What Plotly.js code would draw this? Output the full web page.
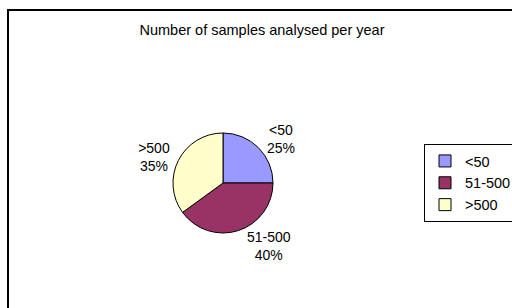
<!DOCTYPE html>
<html>
<head>
<meta charset="utf-8">
<script src="https://cdn.plot.ly/plotly-3.0.1.min.js"></script>
<style>
html,body{margin:0;padding:0;background:#fff;}
#chart{width:512px;height:308px;}
</style>
</head>
<body>
<div id="chart"></div>
<script>
const categories = ["<50", "51-500", ">500"];
const values = [25, 40, 35];
const colors = ["#9999FF", "#993366", "#FFFFCC"];
const titleText = "Number of samples analysed per year";

const W = 512, H = 308;
const cx = 223, cy = 183, r = 50;
const FONT = "Liberation Sans, Arial, sans-serif";

const trace = {
  type: "pie",
  labels: categories,
  values: values,
  sort: false,
  direction: "clockwise",
  rotation: 0,
  marker: {colors: colors, line: {color: "#000000", width: 1}},
  textinfo: "label+percent",
  texttemplate: "%{label}<br>%{percent:.0%}",
  textposition: "outside",
  outsidetextfont: {family: FONT, size: 14, color: "#000"},
  automargin: false,
  domain: {x: [(cx - r) / W, (cx + r) / W], y: [1 - (cy + r) / H, 1 - (cy - r) / H]},
  hoverinfo: "skip"
};

const layout = {
  width: W, height: H,
  margin: {l: 0, r: 0, t: 0, b: 0, autoexpand: false},
  paper_bgcolor: "#ffffff",
  showlegend: true,
  font: {family: FONT, size: 14, color: "#000"},
  title: {text: titleText, x: 262 / W, xanchor: "center", y: 1 - 30 / H, yanchor: "middle",
          font: {family: FONT, size: 14.5, color: "#000"}},
  legend: {x: 424 / W, xanchor: "left", y: 1 - 144 / H, yanchor: "top",
           bordercolor: "#000", borderwidth: 1, bgcolor: "#fff",
           font: {family: FONT, size: 14.5, color: "#000"}},
  shapes: [{type: "rect", xref: "paper", yref: "paper",
            x0: 8 / W, x1: 1.05, y0: -0.05, y1: 1 - 10 / H,
            line: {color: "#000", width: 2}, fillcolor: "rgba(0,0,0,0)", layer: "above"}]
};

Plotly.newPlot("chart", [trace], layout, {displayModeBar: false, staticPlot: true});
</script>
</body>
</html>
